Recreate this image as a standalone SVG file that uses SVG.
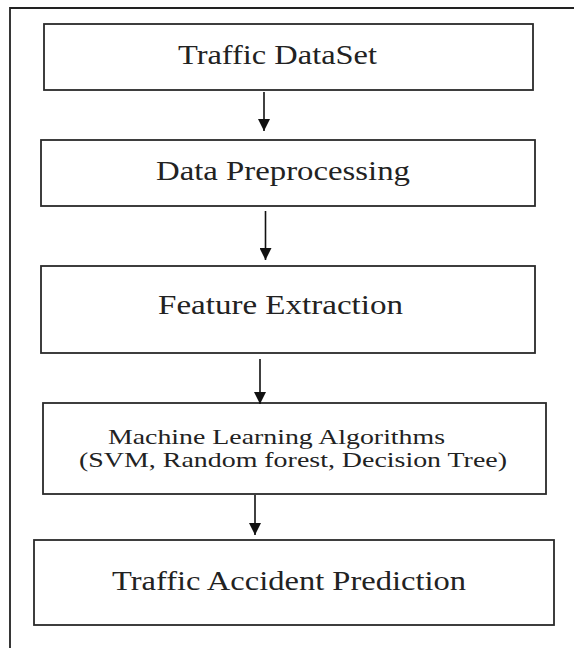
<svg xmlns="http://www.w3.org/2000/svg" width="575" height="648" viewBox="0 0 575 648">
<style>
.box{fill:#fff;stroke:#2a2a2a;stroke-width:1.8}
.t{font-family:"Liberation Serif","Times New Roman",serif;fill:#222}
.big{font-size:28px}
.sm{font-size:21px}
.c{stroke:#111;stroke-width:1.6;fill:none}
</style>
<defs>
<marker id="ah" viewBox="0 0 10 10" refX="10" refY="5" markerWidth="7.5" markerHeight="7.5" markerUnits="strokeWidth" orient="auto">
<path d="M0,0 L10,5 L0,10 z" fill="#111"/>
</marker>
</defs>
<rect width="575" height="648" fill="#fff"/>
<path d="M10,648 V8 H574" fill="none" stroke="#222" stroke-width="1.8"/>
<g id="n1"><rect class="box" x="44" y="24" width="489" height="66"/><text class="t big" x="178" y="64" textLength="199" lengthAdjust="spacingAndGlyphs">Traffic DataSet</text></g>
<g id="n2"><rect class="box" x="41" y="140" width="494" height="66"/><text class="t big" x="156" y="180" textLength="254" lengthAdjust="spacingAndGlyphs">Data Preprocessing</text></g>
<g id="n3"><rect class="box" x="41" y="266" width="494" height="87"/><text class="t big" x="158" y="314" textLength="245" lengthAdjust="spacingAndGlyphs">Feature Extraction</text></g>
<g id="n4"><rect class="box" x="43" y="403" width="503" height="91"/><text class="t sm" x="108" y="444" textLength="337" lengthAdjust="spacingAndGlyphs">Machine Learning Algorithms</text><text class="t sm" x="79" y="467" textLength="428" lengthAdjust="spacingAndGlyphs">(SVM, Random forest, Decision Tree)</text></g>
<g id="n5"><rect class="box" x="34" y="540" width="520" height="85"/><text class="t big" x="112" y="590" textLength="354" lengthAdjust="spacingAndGlyphs">Traffic Accident Prediction</text></g>
<g id="connectors">
<line class="c" x1="264" y1="92" x2="264" y2="131" marker-end="url(#ah)"/>
<line class="c" x1="265.5" y1="211" x2="265.5" y2="260" marker-end="url(#ah)"/>
<line class="c" x1="260" y1="359" x2="260" y2="404" marker-end="url(#ah)"/>
<line class="c" x1="255" y1="495" x2="255" y2="535" marker-end="url(#ah)"/>
</g>
</svg>
